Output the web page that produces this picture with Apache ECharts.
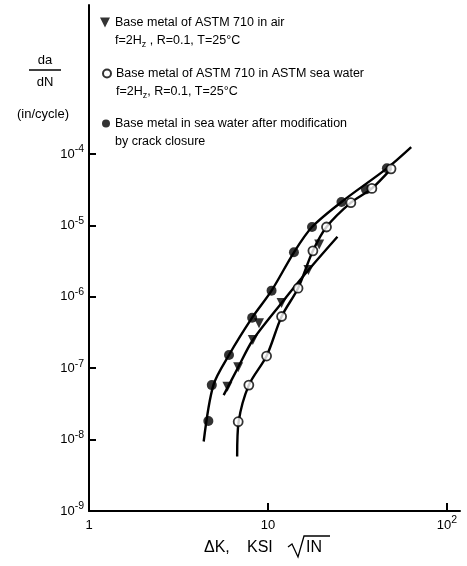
<!DOCTYPE html>
<html>
<head>
<meta charset="utf-8">
<script src="https://cdn.jsdelivr.net/npm/echarts@6/dist/echarts.min.js"></script>
<style>html,body{margin:0;padding:0;background:#fff}#c{width:467px;height:566px}</style>
</head>
<body>
<div id="c"></div>
<script>
// ---- data ----
const seriesNames = ['Base metal of ASTM 710 in air', 'Base metal of ASTM 710 in ASTM sea water', 'Base metal in sea water after modification'];
const legendSecondLines = ['{a|f=2H}{sub|z}{a| , R=0.1, T=25°C}', '{a|f=2H}{sub|z}{a|, R=0.1, T=25°C}', '{a|by crack closure}'];

// ΔK (ksi√in) and da/dN (in/cycle) markers
const airK     = [5.93, 6.81, 8.22, 8.90, 11.9, 16.8, 19.3];
const airRate  = [5.5e-8, 1.03e-7, 2.48e-7, 4.25e-7, 8.2e-7, 2.37e-6, 5.4e-6];
const seaK     = [6.81, 7.81, 9.81, 11.9, 14.7, 17.8, 21.2, 29.0, 38.0, 48.6];
const seaRate  = [1.78e-8, 5.8e-8, 1.48e-7, 5.3e-7, 1.32e-6, 4.4e-6, 9.5e-6, 2.08e-5, 3.3e-5, 6.2e-5];
const modK     = [4.64, 4.85, 6.05, 8.15, 10.46, 13.95, 17.6, 25.7, 35.2, 46.1];
const modRate  = [1.82e-8, 5.8e-8, 1.53e-7, 5.1e-7, 1.22e-6, 4.2e-6, 9.5e-6, 2.13e-5, 3.2e-5, 6.3e-5];

// hand-drawn fit curves
const airFitK     = [5.65, 6.81, 8.22, 11.9, 16.8, 24.4];
const airFitRate  = [4.2e-8, 1.03e-7, 2.48e-7, 8.2e-7, 2.37e-6, 6.95e-6];
const seaFitK     = [6.72, 6.85, 7.81, 9.81, 11.9, 14.7, 17.8, 21.2, 29.0, 38.0, 48.6];
const seaFitRate  = [5.8e-9, 1.78e-8, 5.8e-8, 1.48e-7, 5.3e-7, 1.32e-6, 4.4e-6, 9.5e-6, 2.08e-5, 3.3e-5, 6.2e-5];
const modFitK     = [4.37, 4.95, 6.05, 8.15, 10.46, 13.95, 17.6, 25.7, 46.1, 63.0];
const modFitRate  = [9.4e-9, 5.8e-8, 1.53e-7, 5.1e-7, 1.22e-6, 4.2e-6, 9.5e-6, 2.13e-5, 6.3e-5, 1.25e-4];

// axis tick labels
const xTickValues = [1, 10, 100];
const yTickValues = [1e-9, 1e-8, 1e-7, 1e-6, 1e-5, 1e-4];

// ---- chart ----
const FONT = 'Liberation Sans';
const pairs = (xs, ys) => xs.map((x, i) => [x, ys[i]]);
const powLabel = v => {
  const e = Math.round(Math.log10(v));
  if (e === 0) return '{b|1}';
  if (e === 1) return '{b|10}';
  return '{b|10}{s|' + e + '}';
};
const tickRich = {
  b: {fontFamily: FONT, fontSize: 13, color: '#000', lineHeight: 20},
  s: {fontFamily: FONT, fontSize: 10.5, color: '#000', lineHeight: 11, verticalAlign: 'top'}
};
const LH = 18;
const legendRich = {
  a: {fontFamily: FONT, fontSize: 12.5, color: '#000', lineHeight: LH},
  sub: {fontFamily: FONT, fontSize: 9, color: '#000', lineHeight: 10, verticalAlign: 'bottom'}
};
const legendRows = [20, 71, 121];
const legendIcon = [10, 8, 8];
const mkLegend = i => ({
  data: [seriesNames[i]],
  left: 115 - 5 - legendIcon[i],
  top: legendRows[i] - 1.5 * LH + 23,
  orient: 'vertical',
  padding: 0,
  itemWidth: legendIcon[i],
  itemHeight: legendIcon[i],
  selectedMode: false,
  formatter: name => '{a|' + name + '}\n' + legendSecondLines[i],
  textStyle: {rich: legendRich, padding: [LH, 0, 0, 0]}
});

const blackLine = {color: '#000', width: 2};
const fitLine = (name, xs, ys) => ({
  name: name, type: 'line', xAxisIndex: 0, yAxisIndex: 0,
  data: pairs(xs, ys), showSymbol: false, symbol: 'none',
  smooth: 0.3, lineStyle: {color: '#000', width: 2.4}, silent: true, z: 2, clip: false
});
const txt = (x, y, s, size, align) => ({type: 'text', x: x, y: y,
  style: {text: s, fontFamily: FONT, fontSize: size, fill: '#000', align: align || 'center', verticalAlign: 'middle'}});

const option = {
  backgroundColor: '#fff',
  animation: false,
  grid: [
    {left: 89, right: 7, top: 5, bottom: 55},
    {left: 89, right: 20, top: 154, bottom: 55}
  ],
  xAxis: [
    {type: 'log', logBase: 10, gridIndex: 0, min: 1, max: 118,
     axisLine: {lineStyle: blackLine}, axisTick: {show: false}, axisLabel: {show: false},
     splitLine: {show: false}, minorTick: {show: false}},
    {type: 'log', logBase: 10, gridIndex: 1, min: 1, max: 100,
     axisLine: {show: false},
     axisTick: {show: true, inside: true, length: 8, lineStyle: blackLine},
     axisLabel: {formatter: powLabel, rich: tickRich, margin: 4},
     splitLine: {show: false}, minorTick: {show: false}}
  ],
  yAxis: [
    {type: 'log', logBase: 10, gridIndex: 0, min: 1e-9, max: 0.01222,
     axisLine: {lineStyle: blackLine}, axisTick: {show: false}, axisLabel: {show: false},
     splitLine: {show: false}, minorTick: {show: false}},
    {type: 'log', logBase: 10, gridIndex: 1, min: 1e-9, max: 1e-4,
     axisLine: {show: false},
     axisTick: {show: true, inside: true, length: 7, lineStyle: blackLine},
     axisLabel: {formatter: powLabel, rich: tickRich, margin: 5},
     splitLine: {show: false}, minorTick: {show: false}}
  ],
  legend: [mkLegend(0), mkLegend(1), mkLegend(2)],
  series: [
    fitLine('air fit', airFitK, airFitRate),
    fitLine('sea water fit', seaFitK, seaFitRate),
    fitLine('modified fit', modFitK, modFitRate),
    {name: seriesNames[0], type: 'scatter', xAxisIndex: 0, yAxisIndex: 0,
     data: pairs(airK, airRate), symbol: 'path://M0,0L10,0L5,10Z', symbolSize: 10,
     itemStyle: {color: '#000'}, z: 5},
    {name: seriesNames[1], type: 'scatter', xAxisIndex: 0, yAxisIndex: 0,
     data: pairs(seaK, seaRate), symbol: 'circle', symbolSize: 9,
     itemStyle: {color: '#fff', borderColor: '#000', borderWidth: 1.8}, z: 6},
    {name: seriesNames[2], type: 'scatter', xAxisIndex: 0, yAxisIndex: 0,
     data: pairs(modK, modRate), symbol: 'circle', symbolSize: 10,
     itemStyle: {color: '#000'}, z: 5}
  ],
  graphic: [
    txt(45, 60, 'da', 13),
    {type: 'line', shape: {x1: 29, y1: 70, x2: 61, y2: 70}, style: {stroke: '#000', lineWidth: 1.5}},
    txt(45, 82, 'dN', 13),
    txt(43, 114, '(in/cycle)', 13),
    txt(204, 548, 'ΔK,', 16, 'left'),
    txt(247, 548, 'KSI', 16, 'left'),
    {type: 'polyline', shape: {points: [[288, 547], [292, 544], [298, 557], [304, 536], [330, 536]]},
     style: {stroke: '#000', fill: null, lineWidth: 1.3}},
    txt(306, 548, 'IN', 16, 'left')
  ]
};
const chart = echarts.init(document.getElementById('c'));
chart.setOption(option);
</script>
</body>
</html>
